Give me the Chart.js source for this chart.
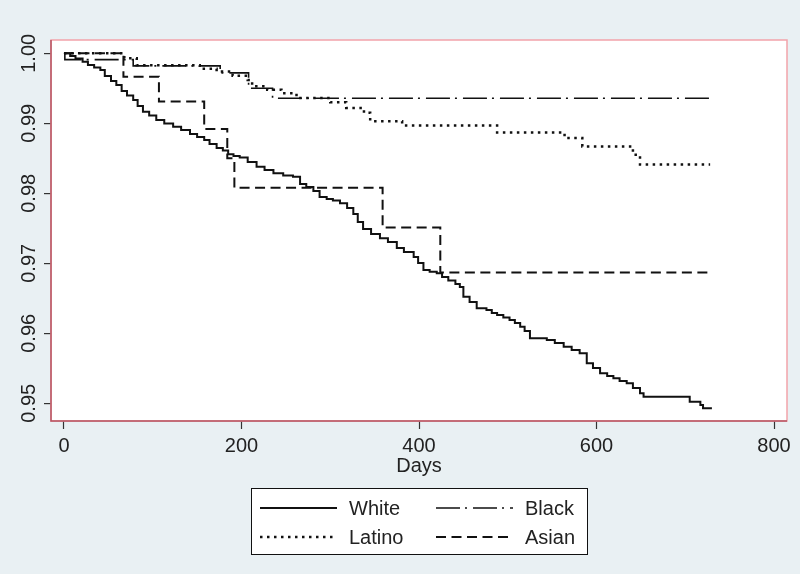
<!DOCTYPE html>
<html>
<head>
<meta charset="utf-8">
<script src="https://cdn.jsdelivr.net/npm/chart.js@4"></script>
<style>
  html, body { margin: 0; padding: 0; background: #e9f0f3; }
  #wrap { width: 800px; height: 574px; }
</style>
</head>
<body>
<div id="wrap"><canvas id="km"></canvas></div>
<script>
// Kaplan-Meier style survival curves
const xTicks = [0, 200, 400, 600, 800];
const yTicks = [0.95, 0.96, 0.97, 0.98, 0.99, 1.00];

const whiteDays = [0, 7, 13, 21, 27, 34, 41, 46, 53, 59, 65, 71, 78, 83, 89, 96, 104, 113, 123, 132, 142, 150, 158, 164, 172, 179, 185, 191, 198, 207, 217, 226, 236, 247, 258, 266, 273, 281, 288, 296, 303, 311, 319, 326, 331, 337, 346, 356, 365, 375, 383, 394, 399, 405, 412, 420, 426, 433, 441, 446, 450, 457, 465, 476, 482, 488, 495, 502, 508, 514, 519, 525, 544, 553, 563, 572, 581, 589, 596, 604, 612, 619, 626, 634, 641, 649, 653, 705, 717, 720, 730];
const whiteSurv = [1.0, 0.99961, 0.99926, 0.9988, 0.99833, 0.99797, 0.99761, 0.99676, 0.99604, 0.99547, 0.99461, 0.99397, 0.99333, 0.99247, 0.99166, 0.99111, 0.99047, 0.98997, 0.98951, 0.98904, 0.98847, 0.98804, 0.98761, 0.98704, 0.98647, 0.98611, 0.98557, 0.98533, 0.98511, 0.98447, 0.9838, 0.98333, 0.98286, 0.98254, 0.98237, 0.98133, 0.9809, 0.98033, 0.97947, 0.97919, 0.97897, 0.97857, 0.9779, 0.97704, 0.9759, 0.9749, 0.97419, 0.97357, 0.97304, 0.97219, 0.97161, 0.9709, 0.97004, 0.96904, 0.9688, 0.96857, 0.96804, 0.96754, 0.96704, 0.96661, 0.96523, 0.96447, 0.96357, 0.96333, 0.9629, 0.96261, 0.96226, 0.9619, 0.96147, 0.96094, 0.96033, 0.95929, 0.95904, 0.95861, 0.95809, 0.95761, 0.95714, 0.95571, 0.95504, 0.95429, 0.9539, 0.95357, 0.95319, 0.95286, 0.95219, 0.95143, 0.95094, 0.95023, 0.94976, 0.94929, 0.94929];

const latinoDays = [0, 68, 82, 153, 172, 190, 207, 212, 229, 245, 262, 300, 318, 338, 345, 381, 488, 564, 584, 641, 649, 728];
const latinoSurv = [1.0, 0.9993, 0.9983, 0.9978, 0.9974, 0.9968, 0.9962, 0.9953, 0.9948, 0.9943, 0.9936, 0.9930, 0.9922, 0.9915, 0.9903, 0.9897, 0.9887, 0.9879, 0.9867, 0.9855, 0.9841, 0.9841];

const blackDays = [0, 1, 78, 176, 208, 235, 730];
const blackSurv = [1.0, 0.9991, 0.9982, 0.9972, 0.9950, 0.99357, 0.99357];

const asianDays = [0, 67, 107, 158, 184, 192, 359, 424, 730];
const asianSurv = [1.0, 0.99666, 0.9931, 0.9892, 0.9850, 0.9808, 0.9751, 0.9687, 0.9687];

const toPoints = (days, surv) => days.map((d, i) => ({ x: d, y: surv[i] }));

const FONT = '"Liberation Sans", Arial, sans-serif';

// y labels are drawn upright-rotated like Stata, plus the plot frame and the boxed legend
const stataBits = {
    id: 'stataBits',
    beforeDatasetsDraw(chart) {
        const { ctx, chartArea: a } = chart;
        ctx.save();
        ctx.fillStyle = '#ffffff';
        ctx.fillRect(a.left, a.top, a.right - a.left, a.bottom - a.top);
        ctx.restore();
    },
    afterDraw(chart) {
        const { ctx, chartArea: a } = chart;
        const yScale = chart.scales.y;
        ctx.save();
        // frame
        ctx.strokeStyle = '#f2a3aa';
        ctx.lineWidth = 1.5;
        ctx.strokeRect(a.left, a.top, a.right - a.left, a.bottom - a.top);
        ctx.strokeStyle = '#b55462';
        ctx.beginPath();
        ctx.moveTo(a.left, a.top);
        ctx.lineTo(a.left, a.bottom);
        ctx.lineTo(a.right, a.bottom);
        ctx.stroke();

        // rotated y tick labels
        ctx.fillStyle = '#222';
        ctx.font = '20px ' + FONT;
        ctx.textAlign = 'center';
        ctx.textBaseline = 'middle';
        yTicks.forEach(v => {
            const py = yScale.getPixelForValue(v);
            ctx.save();
            ctx.translate(29, py);
            ctx.rotate(-Math.PI / 2);
            ctx.fillText(v.toFixed(2), 0, 0);
            ctx.restore();
        });

        // legend box
        const box = { x: 251, y: 488, w: 336, h: 66 };
        ctx.fillStyle = '#ffffff';
        ctx.fillRect(box.x, box.y, box.w, box.h);
        ctx.strokeStyle = '#111';
        ctx.lineWidth = 1;
        ctx.strokeRect(box.x + 0.5, box.y + 0.5, box.w, box.h);

        const slots = [
            { ds: 0, x: 260, y: 508 },
            { ds: 2, x: 436, y: 508 },
            { ds: 1, x: 260, y: 537 },
            { ds: 3, x: 436, y: 537 }
        ];
        slots.forEach(s => {
            const ds = chart.data.datasets[s.ds];
            ctx.save();
            ctx.strokeStyle = ds.borderColor;
            ctx.lineWidth = ds.borderWidth;
            ctx.setLineDash(ds.borderDash || []);
            ctx.beginPath();
            ctx.moveTo(s.x, s.y);
            ctx.lineTo(s.x + 77, s.y);
            ctx.stroke();
            ctx.restore();
            ctx.fillStyle = '#222';
            ctx.textAlign = 'left';
            ctx.textBaseline = 'middle';
            ctx.fillText(ds.label, s.x + 89, s.y + 1);
        });
        ctx.restore();
    }
};

const ctx = document.getElementById('km').getContext('2d');
new Chart(ctx, {
    type: 'line',
    data: {
        datasets: [
            { label: 'White', data: toPoints(whiteDays, whiteSurv), borderColor: '#111', borderWidth: 2, borderDash: [] },
            { label: 'Latino', data: toPoints(latinoDays, latinoSurv), borderColor: '#111', borderWidth: 2.5, borderDash: [2.5, 4.5] },
            { label: 'Black', data: toPoints(blackDays, blackSurv), borderColor: '#111', borderWidth: 1.6, borderDash: [24, 5, 2, 6] },
            { label: 'Asian', data: toPoints(asianDays, asianSurv), borderColor: '#111', borderWidth: 2, borderDash: [10, 5.5] }
        ]
    },
    options: {
        responsive: true,
        maintainAspectRatio: false,
        animation: false,
        layout: { padding: { top: 40, right: 13, left: 0, bottom: 96 } },
        elements: {
            point: { radius: 0 },
            line: { stepped: true, fill: false, tension: 0 }
        },
        scales: {
            x: {
                type: 'linear',
                min: -14.6,
                max: 814.6,
                afterBuildTicks: scale => { scale.ticks = xTicks.map(v => ({ value: v })); },
                afterFit: scale => { scale.height = 57; },
                border: { display: false },
                grid: { drawOnChartArea: false, tickLength: 8, tickColor: '#333', tickWidth: 1.2 },
                ticks: { color: '#222', font: { family: FONT, size: 20 }, padding: 5, maxRotation: 0 },
                title: { display: true, text: 'Days', color: '#222', font: { family: FONT, size: 20 }, padding: { top: 0, bottom: 0 } }
            },
            y: {
                min: 0.94747,
                max: 1.0019,
                afterBuildTicks: scale => { scale.ticks = yTicks.map(v => ({ value: v })); },
                afterFit: scale => { scale.width = 51; },
                border: { display: false },
                grid: { color: '#e7f0f1', lineWidth: 1.2, tickLength: 7, tickColor: '#333', tickWidth: 1.2 },
                ticks: { display: false }
            }
        },
        plugins: {
            legend: { display: false },
            tooltip: { enabled: false }
        }
    },
    plugins: [stataBits]
});
</script>
</body>
</html>
